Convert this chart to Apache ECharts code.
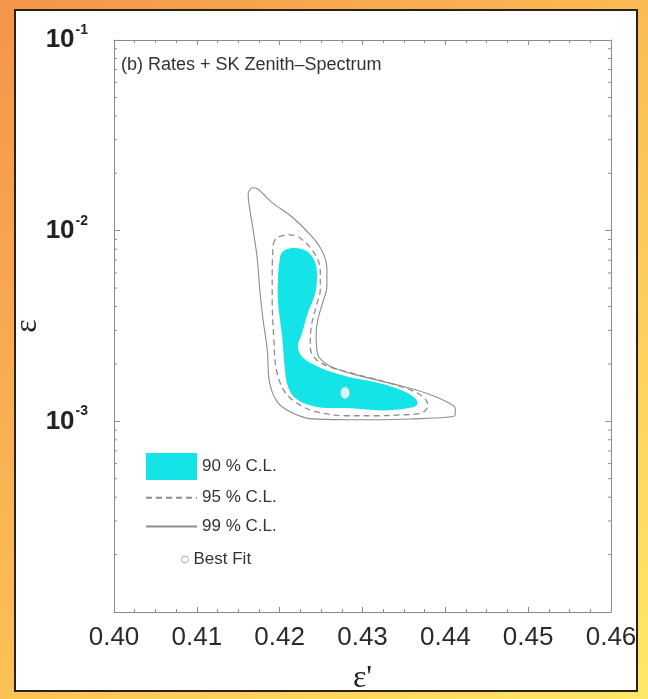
<!DOCTYPE html>
<html><head><meta charset="utf-8">
<script src="https://cdn.jsdelivr.net/npm/echarts@6/dist/echarts.min.js"></script>
<style>html,body{margin:0;padding:0;background:#fff}#c{width:648px;height:699px}</style>
</head><body><div id="c"></div>
<script>
// ---- data ----
const xTickLabels = ['0.40', '0.41', '0.42', '0.43', '0.44', '0.45', '0.46'];
const yTickExponents = ['-4', '-3', '-2', '-1'];
const yMinorTicks = [2e-4, 3e-4, 4e-4, 5e-4, 6e-4, 7e-4, 8e-4, 9e-4,
  2e-3, 3e-3, 4e-3, 5e-3, 6e-3, 7e-3, 8e-3, 9e-3,
  2e-2, 3e-2, 4e-2, 5e-2, 6e-2, 7e-2, 8e-2, 9e-2];
const seriesNames = ['90 % C.L.', '95 % C.L.', '99 % C.L.', 'Best Fit'];
const contour90 = [[0.4200, 0.0070], [0.4203, 0.0077], [0.4215, 0.0081], [0.4233, 0.0078], [0.4243, 0.0068], [0.4245, 0.0057],
  [0.4243, 0.0047], [0.4234, 0.0037], [0.4227, 0.0029], [0.4222, 0.00246], [0.4228, 0.00216], [0.4249, 0.00191],
  [0.4281, 0.00172], [0.4317, 0.00160], [0.4345, 0.00147], [0.4363, 0.00133], [0.4366, 0.00122], [0.4354, 0.00117],
  [0.4325, 0.00114], [0.4285, 0.00117], [0.4245, 0.00119], [0.4221, 0.00130], [0.4210, 0.00152], [0.4206, 0.00194],
  [0.4203, 0.00278], [0.4198, 0.0042], [0.4198, 0.0057]];
const contour95 = [[0.4192, 0.00845], [0.4197, 0.0092], [0.4212, 0.0095], [0.4224, 0.0092], [0.4243, 0.0075], [0.4249, 0.0061],
  [0.4249, 0.0049], [0.4244, 0.0040], [0.4238, 0.0031], [0.4237, 0.00243], [0.4249, 0.00203], [0.4285, 0.00180],
  [0.4325, 0.00162], [0.4360, 0.00145], [0.4375, 0.00132], [0.4379, 0.00121], [0.4372, 0.00111], [0.4345, 0.00108],
  [0.4319, 0.00107], [0.4279, 0.00107], [0.4245, 0.00112], [0.4224, 0.00122], [0.4206, 0.00143], [0.4196, 0.00187],
  [0.4193, 0.00268], [0.4191, 0.00435], [0.4191, 0.00625]];
const contour99 = [[0.4162, 0.0158], [0.4167, 0.0168], [0.4173, 0.0166], [0.4192, 0.0139], [0.4215, 0.0118], [0.4239, 0.0093],
  [0.4252, 0.0077], [0.4257, 0.0063], [0.4257, 0.0051], [0.4252, 0.0042], [0.4246, 0.0034], [0.4244, 0.00285],
  [0.4246, 0.00224], [0.4258, 0.00198], [0.4279, 0.00182], [0.4304, 0.00170], [0.4345, 0.00154], [0.4378, 0.00140],
  [0.4401, 0.00127], [0.4412, 0.00117], [0.4412, 0.00108], [0.4401, 0.00105], [0.4360, 0.00103], [0.4319, 0.00102],
  [0.4279, 0.00102], [0.4239, 0.00103], [0.4215, 0.00111], [0.4198, 0.00125], [0.4188, 0.00158], [0.4185, 0.00238],
  [0.4180, 0.0034], [0.4176, 0.0049], [0.4173, 0.0071], [0.4168, 0.0101], [0.4164, 0.0129], [0.4162, 0.0153]];
const bestFit = [[0.4279, 0.00141]];

// ---- styles ----
const CYAN = '#14E3E8';
const AXIS = '#8a8a8a';
const SANS = "'Liberation Sans', Arial, sans-serif";
const SERIF = "'Liberation Serif', 'DejaVu Serif', serif";

const chart = echarts.init(document.getElementById('c'), null, {renderer: 'canvas'});

function xAxisCfg(pos, showLabel) {
  return {
    type: 'value', position: pos, min: 0.40, max: 0.46, interval: 0.01,
    axisLine: {show: true, onZero: false, lineStyle: {color: AXIS, width: 1}},
    axisTick: {show: true, inside: true, length: 5, lineStyle: {color: AXIS}},
    minorTick: {show: true, splitNumber: 4, length: 3, lineStyle: {color: AXIS}},
    splitLine: {show: false},
    axisLabel: {
      show: showLabel, margin: 13, fontSize: 26, fontFamily: SANS, color: '#2a2a2a',
      formatter: (v) => xTickLabels[Math.round((v - 0.40) / 0.01)]
    }
  };
}
function yAxisCfg(pos, showLabel) {
  return {
    type: 'log', logBase: 10, position: pos, min: 1e-4, max: 1e-1, splitNumber: 3,
    axisLine: {show: true, onZero: false, lineStyle: {color: AXIS, width: 1}},
    axisTick: {show: true, inside: true, length: 6, lineStyle: {color: AXIS}},
    splitLine: {show: false},
    axisLabel: {
      show: showLabel, margin: 26, color: '#222',
      formatter: (v) => {
        const e = Math.round(Math.log10(v));
        if (e === -4) return '';
        return '{b|10}{s|' + yTickExponents[e + 4] + '}';
      },
      rich: {
        b: {fontSize: 26, fontWeight: 'bold', fontFamily: SANS, lineHeight: 34, color: '#222'},
        s: {fontSize: 14, fontWeight: 'bold', fontFamily: SANS, verticalAlign: 'top', lineHeight: 14, color: '#222', padding: [0, 0, 0, 1]}
      }
    }
  };
}

const xb = xAxisCfg('bottom', true);
xb.name = "\u03b5'";
xb.nameLocation = 'middle';
xb.nameGap = 51;
xb.nameMoveOverlap = false;
xb.nameTextStyle = {fontFamily: SERIF, fontSize: 32, color: '#222'};
const yl = yAxisCfg('left', true);
yl.name = '\u03b5';
yl.nameLocation = 'middle';
yl.nameGap = 70;
yl.nameMoveOverlap = false;
yl.nameTextStyle = {fontFamily: SERIF, fontSize: 32, color: '#222'};

const hiddenMarker = {color: 'transparent', borderColor: 'transparent', borderWidth: 0};

const option = {
  animation: false,
  backgroundColor: {
    type: 'linear', x: 0, y: 0, x2: 1, y2: 1,
    colorStops: [{offset: 0, color: '#F4944A'}, {offset: 0.5, color: '#FBBE55'}, {offset: 1, color: '#FFE866'}]
  },
  graphic: [{
    type: 'rect', left: 14, top: 9, z: -10,
    shape: {width: 622, height: 681},
    style: {fill: '#ffffff', stroke: '#2b2118', lineWidth: 2}
  }],
  title: {
    text: '(b) Rates + SK Zenith\u2013Spectrum', left: 121, top: 56, padding: 0,
    textStyle: {fontSize: 18, fontWeight: 'normal', fontFamily: SANS, color: '#333'}
  },
  grid: {left: 114, right: 37, top: 40, bottom: 87, containLabel: false, outerBoundsMode: 'none'},
  xAxis: [xb, xAxisCfg('top', false)],
  yAxis: [yl, yAxisCfg('right', false)],
  legend: [{
    data: [
      {name: seriesNames[0], icon: 'rect'},
      {name: seriesNames[1], itemStyle: hiddenMarker},
      {name: seriesNames[2], itemStyle: hiddenMarker}
    ],
    orient: 'vertical', left: 145, top: 453, padding: 0,
    itemWidth: 51, itemHeight: 27, itemGap: 7, selectedMode: false,
    textStyle: {fontSize: 17, fontFamily: SANS, color: '#333'}
  }, {
    data: [{name: seriesNames[3], icon: 'circle', itemStyle: {color: '#fff', borderColor: '#999', borderWidth: 1}}],
    orient: 'vertical', left: 181, top: 551, padding: 0,
    itemWidth: 7, itemHeight: 7, selectedMode: false,
    textStyle: {fontSize: 17, fontFamily: SANS, color: '#333'}
  }],
  series: [
    {
      name: seriesNames[0], type: 'custom', xAxisIndex: 0, yAxisIndex: 0,
      data: contour90, itemStyle: {color: CYAN}, z: 2,
      renderItem: (params, api) => {
        if (params.dataIndex !== 0) return null;
        const pts = contour90.map(p => api.coord(p));
        return {type: 'polygon', shape: {points: pts, smooth: 0.35}, style: {fill: CYAN, stroke: null}};
      }
    },
    {
      name: seriesNames[1], type: 'line', xAxisIndex: 0, yAxisIndex: 0,
      data: contour95.concat([contour95[0]]), smooth: 0.35, symbol: 'none', z: 3,
      itemStyle: {color: '#8d8d8d'},
      lineStyle: {color: '#8d8d8d', width: 1.3, type: [6, 4]}
    },
    {
      name: seriesNames[2], type: 'line', xAxisIndex: 0, yAxisIndex: 0,
      data: contour99.concat([contour99[0]]), smooth: 0.35, symbol: 'none', z: 3,
      itemStyle: {color: '#8d8d8d'},
      lineStyle: {color: '#8d8d8d', width: 1.1}
    },
    {
      name: seriesNames[3], type: 'scatter', xAxisIndex: 0, yAxisIndex: 0,
      data: bestFit, symbol: 'circle', symbolSize: [9, 12], z: 4,
      itemStyle: {color: '#fff', borderColor: '#bbb', borderWidth: 0.8}
    },
    {
      name: 'minorTicks', type: 'custom', xAxisIndex: 0, yAxisIndex: 0, silent: true, clip: false, z: 5,
      data: yMinorTicks.map(v => [0.40, v]),
      renderItem: (params, api) => {
        const v = api.value(1);
        const l = api.coord([0.40, v]);
        const r = api.coord([0.46, v]);
        return {type: 'group', children: [
          {type: 'line', shape: {x1: l[0], y1: l[1], x2: l[0] + 3, y2: l[1]}, style: {stroke: AXIS, lineWidth: 1}},
          {type: 'line', shape: {x1: r[0], y1: r[1], x2: r[0] - 3, y2: r[1]}, style: {stroke: AXIS, lineWidth: 1}}
        ]};
      }
    }
  ]
};
chart.setOption(option);
</script>
</body></html>
